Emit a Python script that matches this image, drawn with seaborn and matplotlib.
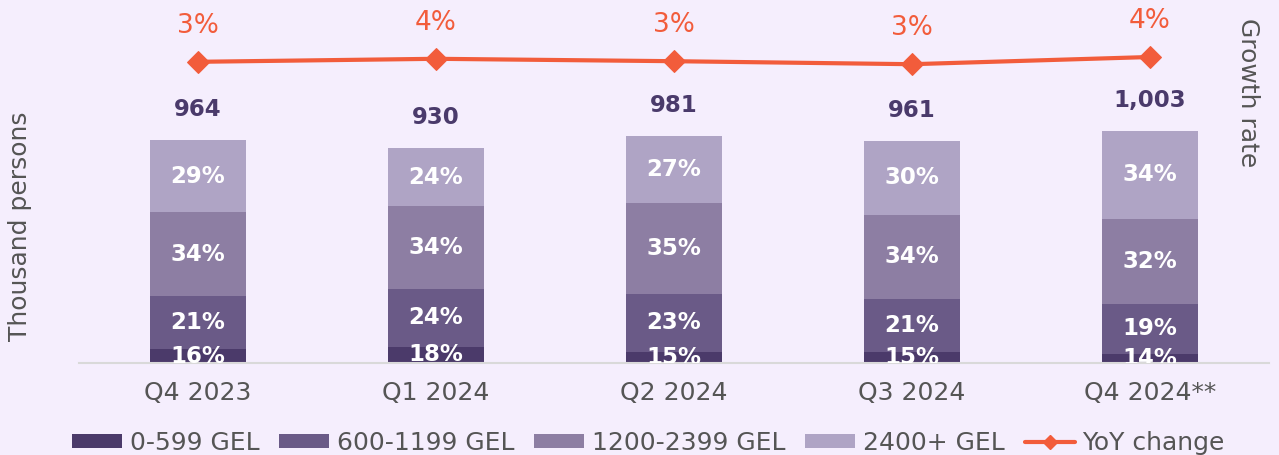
import matplotlib
matplotlib.use("Agg")
import matplotlib.pyplot as plt
import seaborn as sns
import numpy as np
from matplotlib.patches import Patch
from matplotlib.lines import Line2D

# data
quarters = ["Q4 2023", "Q1 2024", "Q2 2024", "Q3 2024", "Q4 2024**"]
groups = ["0-599 GEL", "600-1199 GEL", "1200-2399 GEL", "2400+ GEL"]
# segment sizes, thousand persons
low = [60, 70, 48, 48, 39]
mid_low = [229, 252, 252, 229, 216]
mid_high = [363, 356, 390, 363, 368]
high = [312, 252, 291, 321, 380]
totals = [964, 930, 981, 961, 1003]
# shares printed on the segments
low_pct = [16, 18, 15, 15, 14]
mid_low_pct = [21, 24, 23, 21, 19]
mid_high_pct = [34, 34, 35, 34, 32]
high_pct = [29, 24, 27, 30, 34]
# YoY growth, %
yoy = [3.2, 3.7, 3.3, 2.8, 4.0]

bg = "#F5EEFD"
colors = ["#4B3A6A", "#6A5A87", "#8D7EA3", "#AFA4C5"]
line_col = "#F25C3B"
grey = "#555555"

sns.set_style("white")
plt.rcParams["font.family"] = ["DejaVu Sans"]

fig = plt.figure(figsize=(12.79, 4.55), dpi=100, facecolor=bg)
ax = fig.add_axes([79 / 1279, 92 / 455, 1190 / 1279, 353 / 455])
ax.set_facecolor(bg)

layers = [low, mid_low, mid_high, high]
pcts = [low_pct, mid_low_pct, mid_high_pct, high_pct]
cum = np.cumsum(np.array(layers), axis=0)

# draw stacked bars from the top layer down
for i in range(3, -1, -1):
    sns.barplot(x=quarters, y=cum[i], color=colors[i], width=0.4,
                saturation=1, ax=ax, edgecolor="none")

ax.set_xlim(-0.5, 4.5)
ax.set_ylim(0, 353 / 0.2313)

# segment labels
for i in range(4):
    for j in range(5):
        yc = cum[i][j] - layers[i][j] / 2
        ax.text(j, yc, f"{pcts[i][j]}%", ha="center", va="center",
                color="white", fontsize=16.5, fontweight="bold",
                clip_on=True, clip_box=ax.bbox, zorder=5)

# totals
for j in range(5):
    ax.annotate(f"{totals[j]:,}", (j, totals[j]), xytext=(0, 22),
                textcoords="offset points", ha="center", va="center",
                color="#4A3A6B", fontsize=16.5, fontweight="bold")

for s in ["top", "left", "right"]:
    ax.spines[s].set_visible(False)
ax.spines["bottom"].set_color("#D9D9D9")
ax.spines["bottom"].set_linewidth(1.5)
ax.set_yticks([])
ax.set_xlabel("")
ax.set_ylabel("")
ax.tick_params(axis="x", length=0, pad=13, labelsize=18, labelcolor=grey)

# growth line on secondary axis
ax2 = ax.twinx()
sns.lineplot(x=np.arange(5), y=yoy, color=line_col, linewidth=3,
             marker="D", markersize=11, markeredgecolor=line_col, ax=ax2)
ax2.set_ylim(3.5 - 303 / 6, 3.5 + 50 / 6)
ax2.set_yticks([])
ax2.set_ylabel("")
for s in ax2.spines.values():
    s.set_visible(False)
for j in range(5):
    ax2.annotate(f"{round(yoy[j]):.0f}%", (j, yoy[j]), xytext=(0, 26),
                 textcoords="offset points", ha="center", va="center",
                 color=line_col, fontsize=19)

fig.text(20 / 1279, 1 - 226 / 455, "Thousand persons", rotation=90,
         ha="center", va="center", color=grey, fontsize=18)
fig.text(1248 / 1279, 1 - 93 / 455, "Growth rate", rotation=270,
         ha="center", va="center", color=grey, fontsize=18)

handles = [Patch(facecolor=c, edgecolor="none") for c in colors]
handles.append(Line2D([0], [0], color=line_col, lw=3, marker="D",
                      markersize=7))
labels = groups + ["YoY change"]
leg = fig.legend(handles, labels, loc="center", bbox_to_anchor=(0.507, 1 - 443 / 455),
                 ncol=5, frameon=False, fontsize=18, handlelength=2.0,
                 handleheight=0.5, handletextpad=0.3, columnspacing=0.8)
for t in leg.get_texts():
    t.set_color(grey)

fig.savefig("out.png", dpi=100, facecolor=bg)
